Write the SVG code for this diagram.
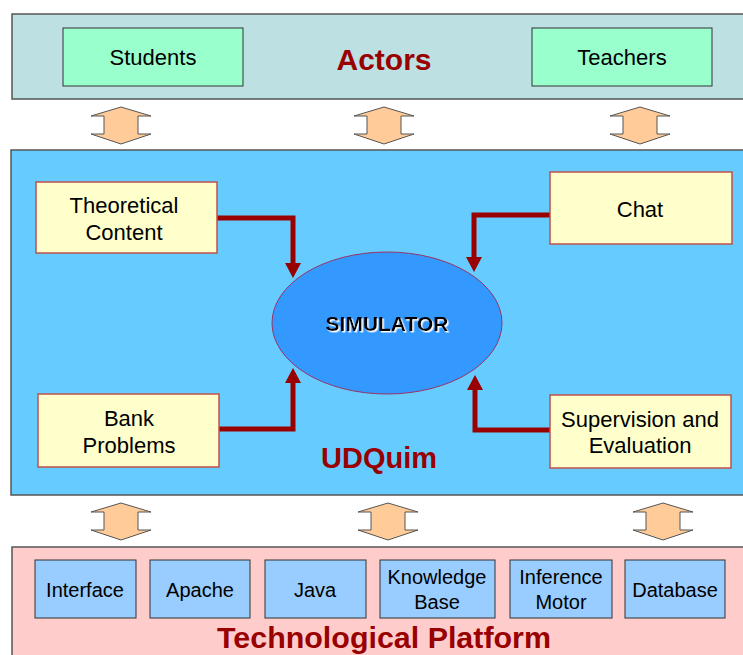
<svg xmlns="http://www.w3.org/2000/svg" width="743" height="655" viewBox="0 0 743 655">
<defs>
<style>
.band{stroke:#555;stroke-width:1.5}
.t{font-family:"Liberation Sans",Arial,sans-serif;fill:#000;text-anchor:middle}
.title{font-family:"Liberation Sans",Arial,sans-serif;font-weight:bold;fill:#990000;text-anchor:middle}
.actor{fill:#99ffcc;stroke:#333;stroke-width:1}
.mod{fill:#ffffcc;stroke:#c0504d;stroke-width:1.5}
.tech{fill:#99ccff;stroke:#333;stroke-width:1}
.dbl{fill:#ffcc99;stroke:#555;stroke-width:1}
.conn{fill:none;stroke:#990000;stroke-width:5}
.head{fill:#990000}
</style>
<filter id="wshadow" x="-10%" y="-30%" width="120%" height="160%">
<feDropShadow dx="1.5" dy="1.5" stdDeviation="0.3" flood-color="#ffffff" flood-opacity="1"/>
</filter>
<polygon id="dbl" points="0,0 30,9 17,9 17,27 30,27 0,37 -30,27 -17,27 -17,9 -30,9"/>
</defs>
<rect width="743" height="655" fill="#fff"/>
<!-- bands -->
<rect class="band" x="12" y="14" width="740" height="85" fill="#bde0e3"/>
<rect class="band" x="11" y="150" width="740" height="345" fill="#66ccff"/>
<rect class="band" x="12" y="547" width="740" height="120" fill="#ffcccc"/>
<text class="title" x="384" y="70" font-size="30">Actors</text>
<text class="title" x="379" y="468" font-size="29">UDQuim</text>
<text class="title" x="384" y="648" font-size="29" textLength="334" lengthAdjust="spacingAndGlyphs">Technological Platform</text>
<!-- double arrows -->
<g id="dblarrows">
<use href="#dbl" class="dbl" x="121" y="107"/>
<use href="#dbl" class="dbl" x="384" y="107"/>
<use href="#dbl" class="dbl" x="640" y="107"/>
<use href="#dbl" class="dbl" x="121" y="503"/>
<use href="#dbl" class="dbl" x="388" y="503"/>
<use href="#dbl" class="dbl" x="663" y="503"/>
</g>
<!-- actors -->
<g id="students"><rect class="actor" x="63" y="28" width="180" height="58"/><text class="t" x="153" y="65" font-size="22">Students</text></g>
<g id="teachers"><rect class="actor" x="532" y="28" width="180" height="58"/><text class="t" x="622" y="65" font-size="22">Teachers</text></g>
<!-- connectors -->
<g id="connectors">
<polyline class="conn" points="217,218 293,218 293,265"/>
<polygon class="head" points="285,263 301,263 293,278"/>
<polyline class="conn" points="550,215 474,215 474,259"/>
<polygon class="head" points="466,257 482,257 474,272"/>
<polyline class="conn" points="219,429 293,429 293,381"/>
<polygon class="head" points="285,383 301,383 293,368"/>
<polyline class="conn" points="550,430 475,430 475,388"/>
<polygon class="head" points="467,390 483,390 475,375"/>
</g>
<!-- simulator -->
<g id="simulator">
<ellipse cx="387" cy="323" rx="115" ry="71" fill="#3399ff" stroke="#993366" stroke-width="1"/>
<text class="t" x="387" y="331" font-size="21" font-weight="bold" filter="url(#wshadow)">SIMULATOR</text>
</g>
<!-- modules -->
<g id="theoretical"><rect class="mod" x="36" y="182" width="181" height="71"/><text class="t" x="124" y="213" font-size="22">Theoretical</text><text class="t" x="124" y="240" font-size="22">Content</text></g>
<g id="chat"><rect class="mod" x="550" y="172" width="182" height="72"/><text class="t" x="640" y="217" font-size="22">Chat</text></g>
<g id="bank"><rect class="mod" x="38" y="394" width="181" height="73"/><text class="t" x="129" y="426" font-size="22">Bank</text><text class="t" x="129" y="453" font-size="22">Problems</text></g>
<g id="supervision"><rect class="mod" x="550" y="395" width="181" height="73"/><text class="t" x="640" y="427" font-size="22">Supervision and</text><text class="t" x="640" y="453" font-size="22">Evaluation</text></g>
<!-- tech -->
<g id="interface"><rect class="tech" x="35" y="560" width="101" height="58"/><text class="t" x="85" y="597" font-size="20">Interface</text></g>
<g id="apache"><rect class="tech" x="150" y="560" width="100" height="58"/><text class="t" x="200" y="597" font-size="20">Apache</text></g>
<g id="java"><rect class="tech" x="265" y="560" width="101" height="58"/><text class="t" x="315" y="597" font-size="20">Java</text></g>
<g id="knowledge"><rect class="tech" x="380" y="560" width="115" height="58"/><text class="t" x="437" y="584" font-size="20">Knowledge</text><text class="t" x="437" y="609" font-size="20">Base</text></g>
<g id="inference"><rect class="tech" x="510" y="560" width="102" height="58"/><text class="t" x="561" y="584" font-size="20">Inference</text><text class="t" x="561" y="609" font-size="20">Motor</text></g>
<g id="database"><rect class="tech" x="625" y="560" width="100" height="58"/><text class="t" x="675" y="597" font-size="20">Database</text></g>
</svg>
